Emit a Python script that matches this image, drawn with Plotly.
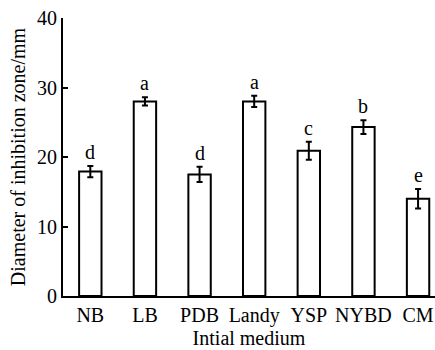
import plotly.graph_objects as go

categories = ["NB", "LB", "PDB", "Landy", "YSP", "NYBD", "CM"]
means = [17.9, 28.0, 17.5, 28.0, 20.9, 24.3, 14.0]
errors = [0.8, 0.6, 1.1, 0.8, 1.3, 1.0, 1.4]
letters = ["d", "a", "d", "a", "c", "b", "e"]
y_ticks = [0, 10, 20, 30, 40]

FONT = "Liberation Serif"

fig = go.Figure()
fig.add_trace(go.Bar(
    x=categories, y=means,
    width=0.41,
    marker=dict(color="white", line=dict(color="black", width=2)),
    error_y=dict(type="data", array=errors, visible=True, color="black", thickness=2, width=3),
    showlegend=False,
))

for c, m, e, l in zip(categories, means, errors, letters):
    fig.add_annotation(x=c, y=m + e, text=l, showarrow=False, yanchor="bottom", yshift=1,
                       font=dict(family=FONT, size=20, color="black"))

fig.update_layout(
    width=435, height=350,
    margin=dict(l=63, r=0, t=18, b=54),
    plot_bgcolor="white", paper_bgcolor="white",
    font=dict(family=FONT, size=20, color="black"),
    bargap=0.5,
)
fig.update_xaxes(
    type="category",
    range=[-0.5, 6.31], showline=True, linecolor="black", linewidth=2,
    ticks="", showgrid=False, zeroline=False,
    title=dict(text="Intial medium", standoff=4, font=dict(family=FONT, size=20)),
    tickfont=dict(family=FONT, size=20, color="black"),
)
fig.update_yaxes(
    range=[0, 40], tickvals=y_ticks, showline=True, linecolor="black", linewidth=2,
    ticks="inside", ticklen=5, tickwidth=2, tickcolor="black",
    showgrid=False, zeroline=False,
    title=dict(text="Diameter of inhibition zone/mm", standoff=6, font=dict(family=FONT, size=20)),
    tickfont=dict(family=FONT, size=20, color="black"),
)

fig.write_html(
    "out.html",
    config={"displayModeBar": False},
    post_script="document.body.style.margin='0';document.body.style.padding='0';document.documentElement.style.overflow='hidden';",
)
